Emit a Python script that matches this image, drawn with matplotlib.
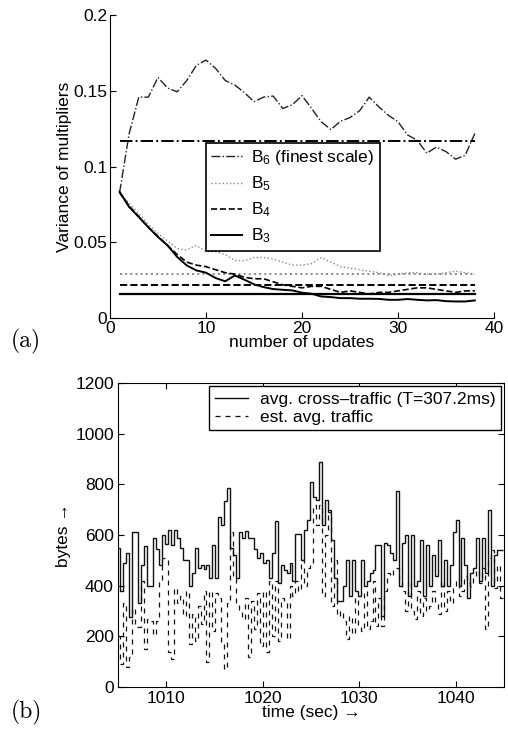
import numpy as np
import matplotlib
matplotlib.use("Agg")
from matplotlib import pyplot as plt

plt.rcParams['font.family'] = ['Liberation Sans', 'DejaVu Sans']
plt.rcParams['font.size'] = 12
plt.rcParams['mathtext.fontset'] = 'custom'
plt.rcParams['mathtext.rm'] = 'Liberation Sans'
plt.rcParams['mathtext.it'] = 'Liberation Sans'

# ---- panel (a): variance of multipliers vs number of updates ----
updates = np.arange(1, 39)

var_b6 = [0.083, 0.122, 0.146, 0.146, 0.159, 0.152, 0.1495, 0.157, 0.167, 0.1705,
          0.165, 0.157, 0.154, 0.149, 0.143, 0.146, 0.1467, 0.1385, 0.141, 0.147,
          0.1385, 0.1297, 0.1246, 0.130, 0.1325, 0.137, 0.146, 0.1396, 0.134, 0.1297,
          0.121, 0.1175, 0.109, 0.113, 0.110, 0.105, 0.1076, 0.122]
var_b5 = [0.083, 0.076, 0.069, 0.062, 0.056, 0.051, 0.046, 0.045, 0.048, 0.044,
          0.044, 0.042, 0.038, 0.038, 0.040, 0.040, 0.039, 0.037, 0.035, 0.035,
          0.036, 0.040, 0.037, 0.034, 0.033, 0.032, 0.031, 0.030, 0.028, 0.029,
          0.030, 0.030, 0.029, 0.029, 0.030, 0.031, 0.030, 0.029]
var_b4 = [0.083, 0.074, 0.067, 0.060, 0.054, 0.048, 0.042, 0.037, 0.035, 0.034,
          0.032, 0.030, 0.029, 0.027, 0.026, 0.026, 0.024, 0.022, 0.021, 0.020,
          0.021, 0.021, 0.019, 0.017, 0.018, 0.017, 0.016, 0.017, 0.017, 0.018,
          0.019, 0.020, 0.020, 0.019, 0.018, 0.017, 0.018, 0.018]
var_b3 = [0.0834, 0.0734, 0.0668, 0.060, 0.0536, 0.048, 0.0404, 0.0348, 0.0315, 0.030,
          0.0265, 0.0243, 0.0282, 0.0254, 0.0223, 0.0205, 0.0192, 0.0187, 0.0183, 0.0168,
          0.0161, 0.0143, 0.0139, 0.0132, 0.0132, 0.0128, 0.0128, 0.0127, 0.0121, 0.0121,
          0.0126, 0.0121, 0.0117, 0.0119, 0.0112, 0.0110, 0.0110, 0.0117]

# asymptotic (true) variances
true_var = {'b6': 0.117, 'b5': 0.029, 'b4': 0.022, 'b3': 0.016}

# ---- panel (b): traffic time series (T = 307.2 ms bins) ----
t_start = 1004.95
bin_width = 0.3072

cross_traffic = [
    547, 380, 488, 528, 275, 612, 612, 330, 480, 555,
    400, 400, 590, 545, 480, 600, 565, 618, 560, 618,
    590, 550, 500, 500, 400, 450, 550, 470, 480, 465,
    480, 430, 560, 430, 670, 640, 735, 785, 550, 520,
    430, 612, 590, 615, 590, 590, 545, 510, 530, 490,
    500, 430, 530, 655, 410, 480, 460, 450, 490, 420,
    605, 605, 500, 620, 660, 810, 750, 737, 890, 640,
    740, 690, 580, 430, 340, 340, 400, 500, 360, 500,
    380, 360, 500, 400, 420, 450, 460, 560, 560, 280,
    570, 560, 530, 500, 775, 400, 570, 600, 360, 600,
    400, 420, 580, 360, 560, 400, 520, 440, 580, 400,
    500, 400, 480, 610, 660, 400, 590, 480, 350, 450,
    470, 590, 420, 590, 450, 700, 400, 520, 540, 540]

est_traffic = [
    200, 90, 330, 80, 120, 310, 235, 235, 420, 150,
    270, 260, 205, 260, 420, 510, 510, 140, 110, 390,
    330, 360, 280, 380, 170, 290, 180, 320, 250, 380,
    100, 380, 220, 370, 350, 170, 70, 330, 610, 430,
    330, 300, 270, 350, 120, 340, 230, 370, 160, 380,
    140, 420, 200, 420, 180, 350, 340, 190, 400, 360,
    420, 380, 500, 400, 470, 490, 720, 640, 720, 360,
    600, 700, 320, 500, 280, 300, 260, 190, 280, 210,
    350, 240, 220, 380, 230, 260, 420, 240, 350, 240,
    380, 450, 440, 460, 470, 420, 380, 300, 420, 300,
    270, 380, 280, 350, 300, 320, 380, 330, 290, 420,
    300, 380, 330, 400, 420, 360, 380, 440, 410, 400,
    430, 460, 410, 470, 230, 510, 540, 390, 480, 350]

edges = t_start + bin_width * np.arange(len(cross_traffic) + 1)

fig = plt.figure(figsize=(5.08, 7.33), dpi=100)

# Panel (a)
ax1 = fig.add_axes([0.2165, 0.566, 0.756, 0.413])
l6, = ax1.plot(updates, var_b6, color='#222222', ls='-.', lw=1.0)
ax1.plot([1, 38], [true_var['b6']] * 2, color='black', ls='-.', lw=1.4)
l5, = ax1.plot(updates, var_b5, color='#888888', ls=':', lw=1.0)
ax1.plot([1, 38], [true_var['b5']] * 2, color='#888888', ls=':', lw=1.4)
l4, = ax1.plot(updates, var_b4, color='black', ls='--', lw=1.2)
ax1.plot([1, 38], [true_var['b4']] * 2, color='black', ls='--', lw=1.4)
l3, = ax1.plot(updates, var_b3, color='black', ls='-', lw=1.4)
ax1.plot([1, 38], [true_var['b3']] * 2, color='black', ls='-', lw=1.6)

ax1.set_xlim(0, 40)
ax1.set_ylim(0, 0.2)
ax1.set_xticks([0, 10, 20, 30, 40])
ax1.set_yticks([0, 0.05, 0.1, 0.15, 0.2])
ax1.set_yticklabels(['0', '0.05', '0.1', '0.15', '0.2'])
ax1.spines['top'].set_visible(False)
ax1.spines['right'].set_visible(False)
ax1.tick_params(direction='in', length=4, labelsize=12.5, pad=2)
ax1.set_xlabel('number of updates', fontsize=12.5, labelpad=-1)
ax1.set_ylabel('Variance of multipliers', fontsize=12.5, labelpad=1)

leg1 = ax1.legend([l6, l5, l4, l3],
                  [r'B$_6$ (finest scale)', r'B$_5$', r'B$_4$', r'B$_3$'],
                  loc='upper left', bbox_to_anchor=(0.25, 0.578),
                  borderaxespad=0, fancybox=False, framealpha=1,
                  edgecolor='black', fontsize=12.5, handlelength=1.75,
                  labelspacing=0.42, borderpad=0.3, handletextpad=0.55)
leg1.get_frame().set_linewidth(1.2)

# Panel (b)
ax2 = fig.add_axes([0.2323, 0.0628, 0.760, 0.4147])
ax2.stairs(cross_traffic, edges, baseline=None, color='#111111', lw=1.0,
           label='avg. cross\u2013traffic (T=307.2ms)')
ax2.stairs(est_traffic, edges, baseline=None, color='#111111', lw=0.9,
           ls=(0, (4, 4)), label='est. avg. traffic')
ax2.set_xlim(1005, 1045)
ax2.set_ylim(0, 1200)
ax2.set_xticks([1010, 1020, 1030, 1040])
ax2.set_yticks(range(0, 1201, 200))
ax2.tick_params(direction='in', length=4, labelsize=12.5, pad=3,
                top=True, right=True)
ax2.set_xlabel('time (sec) \u2192', fontsize=12.5, labelpad=-1)
ax2.set_ylabel('bytes \u2192', fontsize=12.5, labelpad=3)
leg2 = ax2.legend(loc='upper right', borderaxespad=0.2, fancybox=False,
                  framealpha=1, edgecolor='black', fontsize=12.5,
                  handlelength=1.9, labelspacing=0.15, borderpad=0.3,
                  handletextpad=0.7)
leg2.get_frame().set_linewidth(1.0)

# panel labels
fig.text(0.022, 1 - 347 / 733, '(a)', fontname='cmr10', fontsize=17,
         va='baseline')
fig.text(0.022, 1 - 718 / 733, '(b)', fontname='cmr10', fontsize=17,
         va='baseline')

fig.savefig('out.png', dpi=100)
